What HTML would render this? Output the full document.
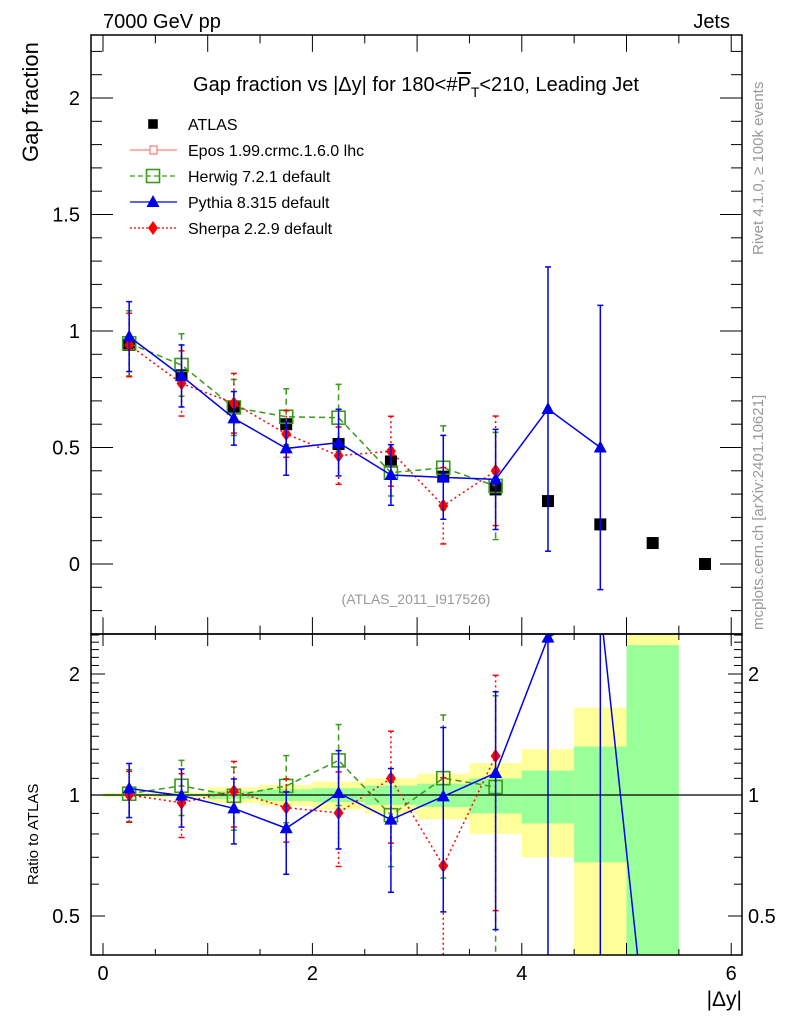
<!DOCTYPE html>
<html><head><meta charset="utf-8"><style>
html,body{margin:0;padding:0;background:#fff;overflow:hidden;width:786px;height:1024px}
svg{display:block;font-family:"Liberation Sans",Arial,sans-serif}
</style></head><body>
<svg id="chart" width="786" height="1024" viewBox="0 0 786 1024" xmlns="http://www.w3.org/2000/svg">
<g id="bands"></g>
<g id="axes"></g>
<g id="series"></g>
<rect x="91" y="35" width="651" height="599" fill="none" stroke="#000" stroke-width="1.5"/>
<rect x="91" y="634" width="651" height="321" fill="none" stroke="#000" stroke-width="1.5"/>
<text x="103" y="28" font-size="20">7000 GeV pp</text>
<text x="730" y="28" font-size="20" text-anchor="end">Jets</text>
<text x="416" y="91" font-size="20" text-anchor="middle">Gap fraction vs |Δy| for 180&lt;#<tspan text-decoration="overline">P</tspan><tspan font-size="14" dy="6">T</tspan><tspan dy="-6">&lt;210, Leading Jet</tspan></text>
<text transform="translate(38,162) rotate(-90)" font-size="22">Gap fraction</text>
<text transform="translate(38,885) rotate(-90)" font-size="15">Ratio to ATLAS</text>
<text x="742" y="1006" font-size="21" text-anchor="end">|Δy|</text>
<text x="416" y="604" font-size="14" fill="#999" text-anchor="middle">(ATLAS_2011_I917526)</text>
<text transform="translate(763,255) rotate(-90)" font-size="15" fill="#999">Rivet 4.1.0, ≥ 100k events</text>
<text transform="translate(763,630) rotate(-90)" font-size="15" fill="#999">mcplots.cern.ch [arXiv:2401.10621]</text>
<g id="legend"></g>
</svg>
<script>
const xCenters=[0.25,0.75,1.25,1.75,2.25,2.75,3.25,3.75,4.25,4.75,5.25,5.75];
const atlasVals=[0.94,0.81,0.675,0.60,0.515,0.44,0.375,0.32,0.27,0.17,0.09,0.0];
const atlasStatRel=[0.006,0.007,0.022,0.033,0.04,0.055,0.067,0.10,0.15,0.32,1.36,0];
const atlasTotRel=[0.011,0.015,0.045,0.06,0.08,0.10,0.13,0.20,0.30,0.65,2.2,0];
const herwigVals=[0.947,0.854,0.672,0.632,0.628,0.392,0.413,0.335];
const herwigErr=[0.14,0.134,0.12,0.12,0.143,0.10,0.18,0.23];
const pythiaVals=[0.976,0.807,0.625,0.496,0.521,0.382,0.372,0.363,0.665,0.50,0.016];
const pythiaErr=[0.15,0.133,0.115,0.115,0.143,0.13,0.18,0.215,0.61,0.61,0.005];
const sherpaVals=[0.94,0.775,0.69,0.558,0.465,0.484,0.25,0.40];
const sherpaErr=[0.136,0.14,0.128,0.10,0.123,0.15,0.164,0.235];
const xTickLabels=["0","2","4","6"];
const mainTickLabels=["0","0.5","1","1.5","2"];
const ratioTickLabels=["0.5","1","2"];
const mainMinShown=0.03;

const NS="http://www.w3.org/2000/svg";
const X0=91,X1=742,MT=35,MB=634,RT=634,RB=955;
const sx=v=>103+v*104.7;
const syM=v=>564-v*233;
const syR=v=>795-Math.log2(v)*121;
function mk(parent,tag,attrs){const e=document.createElementNS(NS,tag);for(const k in attrs)e.setAttribute(k,attrs[k]);parent.appendChild(e);return e;}
const gB=document.getElementById('bands'),gA=document.getElementById('axes'),gS=document.getElementById('series'),gL=document.getElementById('legend');
const clipR=v=>Math.max(RT,Math.min(RB,v));

xCenters.forEach((c,i)=>{
  if(atlasVals[i]<=0)return;
  const x=sx(c-0.25),w=sx(c+0.25)-x;
  [[atlasTotRel[i],'#ffff99'],[atlasStatRel[i],'#99ff99']].forEach(([r,col])=>{
    const top=clipR(syR(1+r)),bot=(1-r)>0?clipR(syR(1-r)):RB;
    const e=mk(gB,'rect',{x:x,y:top,width:w,height:bot-top,fill:col});
    
    
  });
});

for(let v=0;v<=6.001;v+=0.5){
  const x=sx(v),maj=Math.abs(v-Math.round(v))<1e-6;
  const L=maj?12:6;
  mk(gA,'line',{x1:x,x2:x,y1:RB,y2:RB-L,stroke:'#000'});
  mk(gA,'line',{x1:x,x2:x,y1:RT,y2:RT+L,stroke:'#000'});
  mk(gA,'line',{x1:x,x2:x,y1:MT,y2:MT+L*1.4,stroke:'#000'});
  mk(gA,'line',{x1:x,x2:x,y1:MB,y2:MB-L*1.4,stroke:'#000'});
}
xTickLabels.forEach(t=>{const e=mk(gA,'text',{x:sx(+t),y:980,'font-size':20,'text-anchor':'middle'});e.textContent=t;
  });
for(let k=-2;k<=22;k++){
  const v=k/10,y=syM(v);if(y<MT||y>MB)continue;
  const maj=k%5===0,L=maj?22:11;
  mk(gA,'line',{x1:X0,x2:X0+L,y1:y,y2:y,stroke:'#000'});
  mk(gA,'line',{x1:X1,x2:X1-L,y1:y,y2:y,stroke:'#000'});
}
mainTickLabels.forEach(t=>{const e=mk(gA,'text',{x:80,y:syM(+t)+7,'font-size':20,'text-anchor':'end'});e.textContent=t;
  });
for(let k=4;k<=25;k++){
  const v=k/10,y=syR(v);if(y<RT||y>RB)continue;
  const maj=(k===5||k===10||k===20),L=maj?14:8;
  mk(gA,'line',{x1:X0,x2:X0+L,y1:y,y2:y,stroke:'#000'});
  mk(gA,'line',{x1:X1,x2:X1-L,y1:y,y2:y,stroke:'#000'});
}
ratioTickLabels.forEach(t=>{
  const y=syR(+t)+7;
  let e=mk(gA,'text',{x:80,y:y,'font-size':20,'text-anchor':'end'});e.textContent=t;
  
  e=mk(gA,'text',{x:748,y:y,'font-size':20});e.textContent=t;
  
});
mk(gA,'line',{x1:X0,x2:X1,y1:syR(1),y2:syR(1),stroke:'#000','stroke-width':1.2});

const defs=mk(document.getElementById('chart'),'defs',{});
const cpM=mk(defs,'clipPath',{id:'cpM'});mk(cpM,'rect',{x:X0,y:MT,width:X1-X0,height:MB-MT});
const cpR=mk(defs,'clipPath',{id:'cpR'});mk(cpR,'rect',{x:X0,y:RT,width:X1-X0,height:RB-RT});
const gM=mk(gS,'g',{'clip-path':'url(#cpM)'}),gR=mk(gS,'g',{'clip-path':'url(#cpR)'});
const lim=(v,a,b)=>Math.max(a-10,Math.min(b+10,v));

function marker(g,type,x,y,col){
  let e;
  if(type==='sq')e=mk(g,'rect',{x:x-6,y:y-6,width:12,height:12,fill:'#000'});
  else if(type==='osq')e=mk(g,'rect',{x:x-6.5,y:y-6.5,width:13,height:13,fill:'none',stroke:col,'stroke-width':1.6});
  else if(type==='tri')e=mk(g,'polygon',{points:`${x},${y-7} ${x-6.5},${y+5} ${x+6.5},${y+5}`,fill:col});
  else e=mk(g,'polygon',{points:`${x},${y-7} ${x+5},${y} ${x},${y+7} ${x-5},${y}`,fill:col});
  return e;
}
function drawSeries(name,vals,errs,col,dash,type){
  const panels=[
    ['main',gM,syM,(v)=>v,MT,MB,(v)=>v>=mainMinShown,()=>true],
    ['ratio',gR,syR,(v,i)=>v/atlasVals[i],RT,RB,(v,i)=>v/atlasVals[i]>0,(lo)=>lo>0]
  ];
  panels.forEach(([pn,g,sy,tf,T,B,show,loOk])=>{
    const pts=[];
    vals.forEach((v,i)=>{
      if(!show(v,i))return;
      const val=tf(v,i);
      const x=sx(xCenters[i]),y=sy(val);
      pts.push(x+','+y);
      const lo=tf(v-errs[i],i),hi=tf(v+errs[i],i);
      const yh=lim(sy(hi),T,B),yl=loOk(lo)?lim(sy(lo),T,B):B+10;
      const bar=mk(g,'line',{x1:x,x2:x,y1:yh,y2:yl,stroke:col,'stroke-width':1.5,'stroke-dasharray':dash});
      
      
      mk(g,'line',{x1:x-3,x2:x+3,y1:yh,y2:yh,stroke:col,'stroke-width':1.5});
      mk(g,'line',{x1:x-3,x2:x+3,y1:yl,y2:yl,stroke:col,'stroke-width':1.5});
    });
    const pl=mk(g,'polyline',{points:pts.join(' '),fill:'none',stroke:col,'stroke-width':1.5,'stroke-dasharray':dash});
    
    
    vals.forEach((v,i)=>{
      if(!show(v,i))return;
      const y=sy(tf(v,i));if(y<T-10||y>B+10)return;
      const m=marker(g,type,sx(xCenters[i]),y,col);
      
      
    });
  });
}
atlasVals.forEach((v,i)=>{
  const m=marker(gM,'sq',sx(xCenters[i]),syM(v),'#000');
  
  
});
drawSeries('herwig',herwigVals,herwigErr,'#3a9a1a','6,4','osq');
drawSeries('sherpa',sherpaVals,sherpaErr,'#ff0000','2,3','dia');
drawSeries('pythia',pythiaVals,pythiaErr,'#0000ee','','tri');

const legend=[['ATLAS','#000','','sq',false],['Epos 1.99.crmc.1.6.0 lhc','#ff8080','','epos',true],['Herwig 7.2.1 default','#3a9a1a','5,3','osq',true],['Pythia 8.315 default','#0000ee','','tri',true],['Sherpa 2.2.9 default','#ff0000','2,2','dia',true]];
legend.forEach((l,i)=>{
  const y=124+i*26;
  const g=mk(gL,'g',{});
  
  
  if(l[4])mk(g,'line',{x1:130,x2:177,y1:y,y2:y,stroke:l[1],'stroke-width':1.3,'stroke-dasharray':l[2]});
  if(l[3]==='epos'){mk(g,'rect',{x:150,y:y-4,width:7,height:8,fill:'#fff',stroke:l[1],'stroke-width':1.3});}
  else marker(g,l[3],153,y,l[1]).setAttribute('transform',l[3]==='sq'?`translate(${153*0.2},${y*0.2}) scale(0.8)`:'');
  const t=mk(g,'text',{x:188,y:y+6,'font-size':16});t.textContent=l[0];
});
</script>
</body></html>
